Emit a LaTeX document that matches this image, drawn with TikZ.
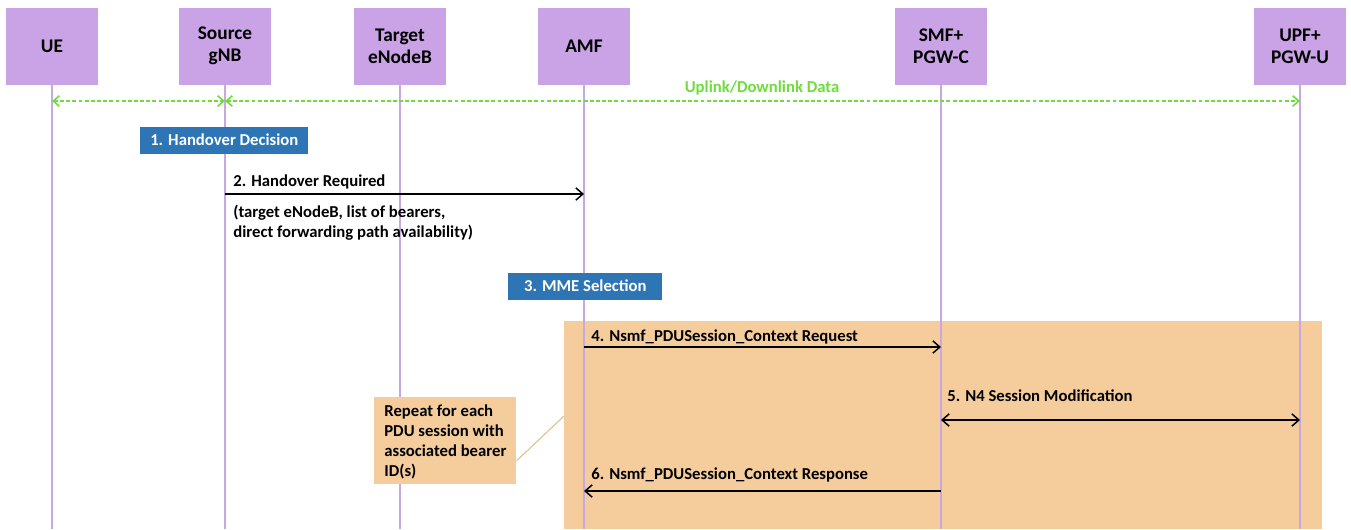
\documentclass[tikz,border=0pt]{standalone}
\usepackage{fontspec}
\setmainfont{Carlito}
\usetikzlibrary{arrows,arrows.meta,positioning,calc,backgrounds}

\definecolor{headfill}{RGB}{202,162,230}
\definecolor{lifecol}{RGB}{200,168,224}
\definecolor{stepblue}{RGB}{46,117,182}
\definecolor{loopfill}{RGB}{245,205,156}
\definecolor{datagreen}{RGB}{110,220,60}
\definecolor{notelink}{RGB}{225,190,140}

\begin{document}
\begin{tikzpicture}[x=0.02cm,y=-0.02cm,>={Straight Barb[length=4pt,width=7pt]},
    font=\fontsize{9.5}{11.4}\selectfont\bfseries,
    entity/.style={fill=headfill,minimum width=1.84cm,minimum height=1.54cm,
      align=center,font=\fontsize{11}{12.6}\selectfont\bfseries},
    life/.style={lifecol,line width=0.6pt},
    stepbox/.style={fill=stepblue,text=white,anchor=west,inner sep=0pt,
      minimum height=0.54cm},
    msg/.style={->,line width=0.85pt},
    data/.style={<->,datagreen,line width=0.9pt,dash pattern=on 2.2pt off 1.3pt,
      >={Straight Barb[length=3.5pt,width=6pt]}},
    label/.style={anchor=west,inner sep=0pt}]
  \useasboundingbox (0,0) rectangle (1351,529);

  % repeat region (behind the lifelines)
  \node[fill=loopfill,minimum width=15.16cm,minimum height=4.16cm,
    anchor=north west,inner sep=0pt] (loop) at (564,321) {};

  % entities and their lifelines
  \foreach \n/\x/\t in {ue/52/UE,src/225/Source\\gNB,tgt/400/Target\\eNodeB,
      amf/584/AMF,smf/941/SMF+\\PGW-C,upf/1300/UPF+\\PGW-U}{
    \node[entity] (\n) at (\x,46) {\t};
    \coordinate (\n-end) at (\x,529);
    \draw[life] (\n) -- (\n-end);
  }

  % rows of the messages
  \coordinate (row-data) at (0,101);
  \coordinate (row2) at (0,194);
  \coordinate (row4) at (0,347);
  \coordinate (row5) at (0,420);
  \coordinate (row6) at (0,491);

  % user plane data
  \draw[data] (ue |- row-data) -- (src |- row-data);
  \draw[data] (src |- row-data) -- (upf |- row-data);
  \node[datagreen,inner sep=0pt] (datalbl) at (762,88) {Uplink/Downlink Data};

  % 1. decision
  \node[stepbox,minimum width=3.36cm] (step1) at (140,140) {1. Handover Decision};

  % 2. handover required
  \draw[msg] (src |- row2) -- (amf |- row2);
  \node[label] (lbl2) at (233,182) {2. Handover Required};
  \node[label,anchor=north west,align=left] (par2) at (233,205)
    {(target eNodeB, list of bearers,\\direct forwarding path availability)};

  % 3. selection
  \node[stepbox,minimum width=3.08cm] (step3) at (508,286) {3. MME Selection};

  % note of the repeat region
  \node[fill=loopfill,anchor=north west,minimum width=2.84cm,minimum height=1.74cm,
    inner sep=0pt] (note) at (374,397) {};
  \node[label,anchor=north west,align=left] (notetxt) at (384,404)
    {Repeat for each\\PDU session with\\associated bearer\\ID(s)};
  \draw[notelink,line width=0.6pt] ($(note.south east)+(0,-24)$)
    -- ($(loop.north west)+(0,95)$);

  % 4. - 6.
  \draw[msg] (amf |- row4) -- (smf |- row4);
  \node[label] (lbl4) at (591,337) {4. Nsmf\_PDUSession\_Context Request};
  \draw[msg,<->] (smf |- row5) -- (upf |- row5);
  \node[label] (lbl5) at (947,396) {5. N4 Session Modification};
  \draw[msg] (smf |- row6) -- (amf |- row6);
  \node[label] (lbl6) at (591,475) {6. Nsmf\_PDUSession\_Context Response};
\end{tikzpicture}
\end{document}
